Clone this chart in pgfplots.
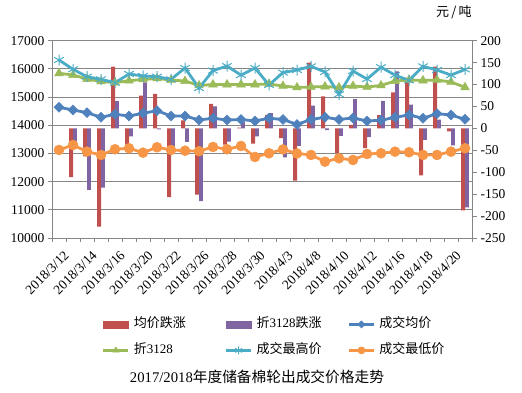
\documentclass[border=0pt]{standalone}
\usepackage{fontspec}
\setmainfont{Liberation Serif}
\newfontfamily\cjk{Noto Sans CJK SC}
\usepackage{pgfplots}
\usepackage{pgfplotstable}
\pgfplotsset{compat=1.18}
\definecolor{axisgray}{RGB}{134,134,134}
\definecolor{barred}{RGB}{192,80,77}
\definecolor{barpurple}{RGB}{128,100,162}
\definecolor{lblue}{RGB}{79,129,189}
\definecolor{lgreen}{RGB}{155,187,89}
\definecolor{lcyan}{RGB}{75,172,198}
\definecolor{lorange}{RGB}{247,150,70}

\pgfplotstableread{
i avg z high low davg dz
0 14638 15844 16315 13123 nan nan
1 14542 15783 15985 13300 -111 -40
2 14446 15641 15723 13063 -64 -140
3 14283 15553 15630 12946 -224 -135
4 14389 15510 15510 13148 141 62
5 14329 15581 15819 13183 -37 -18
6 14425 15624 15748 13027 75 105
7 14517 15659 15723 13219 79 -2
8 14329 15606 15630 13123 -157 -45
9 14329 15570 16030 13098 18 -31
10 14187 15411 15320 13080 -151 -166
11 14248 15446 15940 13230 56 50
12 14187 15446 16100 13148 -37 -30
13 14205 15446 15780 13265 2 15
14 14152 15446 16030 12875 -35 -18
15 14248 15464 15430 13006 31 35
16 14205 15393 15870 13141 -22 -66
17 14028 15340 15960 13000 -119 -40
18 14205 15358 16090 12946 150 52
19 14283 15375 15890 12708 73 -4
20 14205 15340 15100 12829 -56 -17
21 14258 15393 15925 12768 8 67
22 14152 15358 15640 12981 -45 -20
23 14177 15411 16060 13006 30 63
24 14283 15570 15780 13063 82 130
25 14364 15606 15590 13042 115 54
26 14248 15588 16090 12946 -107 -26
27 14411 15606 15960 12946 141 20
28 14364 15535 15780 13063 -7 -39
29 14212 15347 15980 13183 -187 -180
}\data

\begin{document}
\begin{tikzpicture}
\path[use as bounding box] (0,0) rectangle (522pt,393pt);
\pgfplotsset{base/.style={scale only axis, width=420pt, height=197.3pt,
  at={(52pt,155pt)}, anchor=south west, xmin=-0.5, xmax=29.5,
  tick label style={font=\fontsize{13.5}{15}\selectfont},
  axis line style={axisgray, line width=0.8pt},
  tick style={axisgray, line width=0.8pt},
  scaled y ticks=false, scaled x ticks=false}}
% grid + frame + left axis
\begin{axis}[base, ymin=10000, ymax=17000,
  ytick={10000,11000,12000,13000,14000,15000,16000,17000},
  yticklabels={10000,11000,12000,13000,14000,15000,16000,17000},
  ymajorgrids, grid style={axisgray, line width=0.8pt},
  tick align=outside, major tick length=4pt,
  xtick={-0.5,0.5,1.5,2.5,3.5,4.5,5.5,6.5,7.5,8.5,9.5,10.5,11.5,12.5,13.5,14.5,15.5,16.5,17.5,18.5,19.5,20.5,21.5,22.5,23.5,24.5,25.5,26.5,27.5,28.5,29.5},
  xticklabels={}, ytick pos=left, xtick pos=bottom]
\end{axis}
% bars, right axis
\begin{axis}[base, ymin=-250, ymax=200, axis y line*=right, axis x line=none,
  ytick={-250,-200,-150,-100,-50,0,50,100,150,200},
  yticklabels={-250,-200,-150,-100,-50,0,50,100,150,200},
  tick align=outside, major tick length=5pt, clip mode=individual,
  ybar=0pt, bar width=3.8pt]
\addplot[fill=barred, draw=none] table[x=i, y=davg] {\data};
\addplot[fill=barpurple, draw=none] table[x=i, y=dz] {\data};
\node[font=\fontsize{13}{15}\selectfont, anchor=center] at (axis description cs:0.957,1.1454) {\cjk 元\,/\,吨};
\end{axis}
% lines
\begin{axis}[base, ymin=10000, ymax=17000, axis y line=none, axis x line*=bottom,
  xtick={0,2,4,6,8,10,12,14,16,18,20,22,24,26,28},
  xticklabels={2018/3/12,2018/3/14,2018/3/16,2018/3/20,2018/3/22,2018/3/26,2018/3/28,2018/3/30,2018/4/3,2018/4/8,2018/4/10,2018/4/12,2018/4/16,2018/4/18,2018/4/20},
  major tick length=0pt,
  xticklabel style={rotate=45, anchor=north east, yshift=-8pt, xshift=-2pt},
  clip=false,
  legend image code/.code={\draw[mark repeat=2,mark phase=2,#1,/tikz/every mark/.append style={scale=0.72}] plot coordinates {(0pt,0pt) (12.5pt,0pt) (25pt,0pt)};},
  legend columns=3, legend cell align=left,
  legend style={at={(axis description cs:0.119,-0.405)}, anchor=north west,
    draw=none, fill=none, inner sep=0pt, outer sep=0pt, column sep=0pt, row sep=13pt,
    nodes={inner xsep=4pt, inner ysep=0pt, text width=87pt, align=left,
      text height=10pt, text depth=3pt, font=\fontsize{13}{15}\selectfont}},
  title={2017/2018{\cjk 年度储备棉轮出成交价格走势}},
  title style={at={(axis description cs:0.488,-0.735)}, anchor=center, inner sep=0pt,
    font=\fontsize{14.7}{16}\selectfont}]
\addlegendimage{legend image code/.code={\fill[barred] (0pt,-3.5pt) rectangle (25pt,3.5pt);}}
\addlegendentry{\cjk 均价跌涨}
\addlegendimage{legend image code/.code={\fill[barpurple] (0pt,-3.5pt) rectangle (25pt,3.5pt);}}
\addlegendentry{{\cjk 折}3128{\cjk 跌涨}}
\addplot[lblue, line width=2.8pt, mark=square*, mark size=3.5pt,
  mark options={solid, rotate=45, fill=lblue, draw=lblue, line width=0.5pt}] table[x=i, y=avg] {\data};
\addlegendentry{\cjk 成交均价}
\addplot[lgreen, line width=2.8pt, mark=triangle*, mark size=5pt,
  mark options={solid, fill=lgreen, draw=lgreen, line width=0.5pt}] table[x=i, y=z] {\data};
\addlegendentry{{\cjk 折}3128}
\addplot[lcyan, line width=2.8pt, mark=asterisk, mark size=5.5pt,
  mark options={solid, draw=lcyan, line width=1pt}] table[x=i, y=high] {\data};
\addlegendentry{\cjk 成交最高价}
\addplot[lorange, line width=2.8pt, mark=*, mark size=5pt,
  mark options={solid, fill=lorange, draw=lorange, line width=0.5pt}] table[x=i, y=low] {\data};
\addlegendentry{\cjk 成交最低价}
\end{axis}
\end{tikzpicture}
\end{document}
